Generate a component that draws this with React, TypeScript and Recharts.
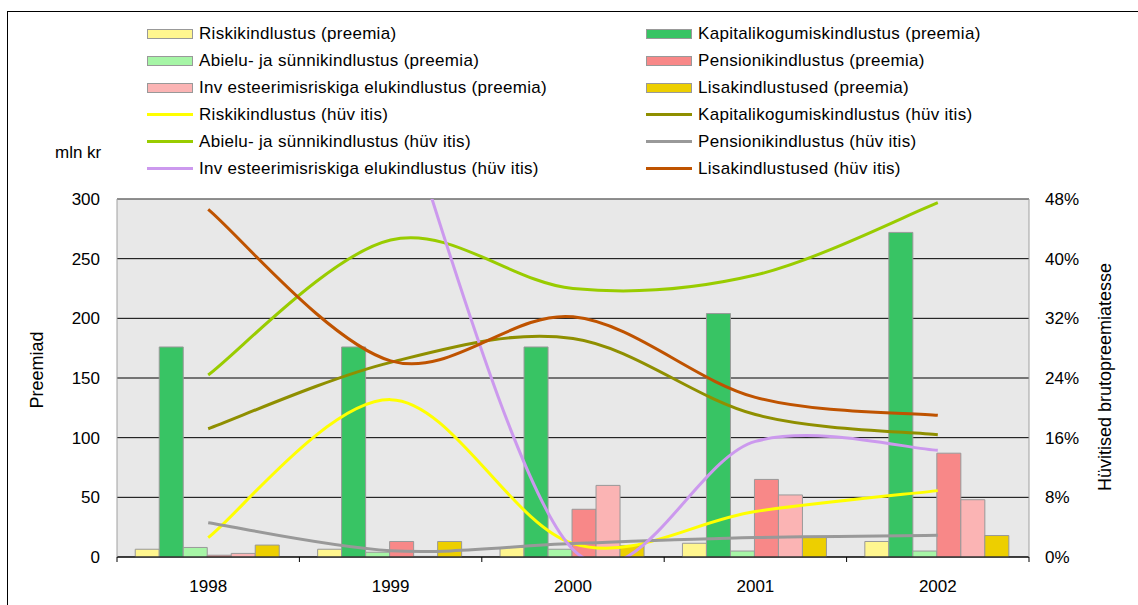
import { ComposedChart, Bar, Line, XAxis, YAxis, CartesianGrid, ReferenceLine } from 'recharts';

const years = ['1998', '1999', '2000', '2001', '2002'];

// preemiad, mln kr
const riskPrem = [6.5, 6.5, 8, 11.5, 13];
const kapPrem = [176, 176, 176, 204, 272];
const abiPrem = [8, 4, 6.5, 5, 5];
const penPrem = [1.5, 13, 40, 65, 87];
const invPrem = [3, 0.5, 60, 52, 48];
const lisPrem = [10, 13, 9.5, 16.5, 18];

// hüvitised, % brutopreemiatest
const riskHuv = [2.6, 21.1, 1.8, 6.1, 8.9];
const kapHuv = [17.2, 26.1, 29.3, 19.1, 16.4];
const abiHuv = [24.4, 42.5, 36.0, 37.8, 47.5];
const penHuv = [4.6, 0.85, 1.8, 2.6, 2.9];
const invHuv = [null, 65, 1, 15.5, 14.3];
const lisHuv = [46.6, 26.3, 32.2, 21.4, 19.0];

const leftTicks = [0, 50, 100, 150, 200, 250, 300];
const rightTicks = [0, 8, 16, 24, 32, 40, 48];

const barSeries = [
  { key: 'riskPrem', name: 'Riskikindlustus (preemia)', color: '#FFF68F' },
  { key: 'kapPrem', name: 'Kapitalikogumiskindlustus (preemia)', color: '#38C464' },
  { key: 'abiPrem', name: 'Abielu- ja sünnikindlustus (preemia)', color: '#A6F5A6' },
  { key: 'penPrem', name: 'Pensionikindlustus (preemia)', color: '#F88888' },
  { key: 'invPrem', name: 'Inv esteerimisriskiga elukindlustus (preemia)', color: '#FBB4B4' },
  { key: 'lisPrem', name: 'Lisakindlustused (preemia)', color: '#EDCF00' },
];

const lineSeries = [
  { key: 'riskHuv', name: 'Riskikindlustus (hüv itis)', color: '#FFFF00' },
  { key: 'kapHuv', name: 'Kapitalikogumiskindlustus (hüv itis)', color: '#8F8F00' },
  { key: 'abiHuv', name: 'Abielu- ja sünnikindlustus (hüv itis)', color: '#99CC00' },
  { key: 'penHuv', name: 'Pensionikindlustus (hüv itis)', color: '#999999' },
  { key: 'invHuv', name: 'Inv esteerimisriskiga elukindlustus (hüv itis)', color: '#CC99EE' },
  { key: 'lisHuv', name: 'Lisakindlustused (hüv itis)', color: '#BF5300' },
];

const data = years.map((year, i) => ({
  year,
  riskPrem: riskPrem[i],
  kapPrem: kapPrem[i],
  abiPrem: abiPrem[i],
  penPrem: penPrem[i],
  invPrem: invPrem[i],
  lisPrem: lisPrem[i],
  riskHuv: riskHuv[i],
  kapHuv: kapHuv[i],
  abiHuv: abiHuv[i],
  penHuv: penHuv[i],
  invHuv: invHuv[i],
  lisHuv: lisHuv[i],
}));

const W = 1138;
const H = 605;
const LEFT_W = 117;
const RIGHT_W = 109;
const PLOT_W = W - LEFT_W - RIGHT_W;
const BAND = PLOT_W / years.length;
const FONT = '"Liberation Sans", Arial, sans-serif';

// excel-like smoothed line (catmull-rom as bezier)
function excelCurve(context: any) {
  let pts: number[][] = [];
  return {
    areaStart() {},
    areaEnd() {},
    lineStart() {
      pts = [];
    },
    point(x: number, y: number) {
      pts.push([+x, +y]);
    },
    lineEnd() {
      if (!pts.length) return;
      context.moveTo(pts[0][0], pts[0][1]);
      for (let i = 0; i < pts.length - 1; i++) {
        const p0 = pts[i - 1] || pts[i];
        const p1 = pts[i];
        const p2 = pts[i + 1];
        const p3 = pts[i + 2] || p2;
        context.bezierCurveTo(
          p1[0] + (p2[0] - p0[0]) / 6,
          p1[1] + (p2[1] - p0[1]) / 6,
          p2[0] - (p3[0] - p1[0]) / 6,
          p2[1] - (p3[1] - p1[1]) / 6,
          p2[0],
          p2[1]
        );
      }
    },
  };
}

function YearTick(props: any) {
  const { x, y, payload, index } = props;
  return (
    <g>
      <line x1={x - BAND / 2} y1={y} x2={x - BAND / 2} y2={y + 5} stroke="#000" />
      {index === years.length - 1 && (
        <line x1={x + BAND / 2} y1={y} x2={x + BAND / 2} y2={y + 5} stroke="#000" />
      )}
      <text x={x} y={y + 35} textAnchor="middle" fontSize={17} fill="#000" fontFamily={FONT}>
        {payload.value}
      </text>
    </g>
  );
}

const legendItems = [
  ...barSeries.map((s) => ({ ...s, kind: 'bar' })),
  ...lineSeries.map((s) => ({ ...s, kind: 'line' })),
];

export default function App() {
  return (
    <div
      style={{
        position: 'fixed',
        left: 0,
        top: 0,
        width: W,
        height: H,
        overflow: 'hidden',
        background: '#fff',
        fontFamily: FONT,
      }}
    >
      <div
        style={{
          position: 'absolute',
          left: 7,
          top: 11,
          width: 1200,
          height: 700,
          border: '1px solid #000',
        }}
      />
      <div
        style={{
          position: 'absolute',
          left: 147,
          top: 20,
          display: 'grid',
          gridTemplateColumns: '499px 400px',
          gridAutoRows: '27px',
          fontSize: 17,
          letterSpacing: 0.3,
        }}
      >
        {legendItems.map((it) => (
          <div key={it.key} style={{ display: 'flex', alignItems: 'center', whiteSpace: 'nowrap' }}>
            {it.kind === 'bar' ? (
              <span
                style={{
                  width: 46,
                  height: 10,
                  boxSizing: 'border-box',
                  border: '1px solid #999',
                  background: it.color,
                  marginRight: 6,
                }}
              />
            ) : (
              <span style={{ width: 46, height: 3, background: it.color, marginRight: 6 }} />
            )}
            <span>{it.name}</span>
          </div>
        ))}
      </div>
      <div style={{ position: 'absolute', left: 55, top: 143, fontSize: 17 }}>mln kr</div>
      <div
        style={{
          position: 'absolute',
          left: 37,
          top: 370,
          fontSize: 18,
          whiteSpace: 'nowrap',
          transform: 'translate(-50%, -50%) rotate(-90deg)',
        }}
      >
        Preemiad
      </div>
      <div
        style={{
          position: 'absolute',
          left: 1105,
          top: 377,
          fontSize: 18,
          whiteSpace: 'nowrap',
          transform: 'translate(-50%, -50%) rotate(-90deg)',
        }}
      >
        Hüvitised brutopreemiatesse
      </div>
      <div style={{ position: 'absolute', left: 0, top: 0 }}>
        <ComposedChart
          width={W}
          height={H}
          data={data}
          margin={{ top: 199, right: 0, bottom: 18, left: 0 }}
          barCategoryGap="10%"
          barGap={0}
        >
          <CartesianGrid yAxisId="left" vertical={false} stroke="#000" fill="#E8E8E8" />
          <ReferenceLine yAxisId="left" y={300} stroke="#A0A0A0" />
          <XAxis
            dataKey="year"
            height={30}
            axisLine={{ stroke: '#000' }}
            tickLine={false}
            tickSize={0}
            tickMargin={0}
            tick={<YearTick />}
            interval={0}
          />
          <YAxis
            yAxisId="left"
            width={LEFT_W}
            domain={[0, 300]}
            ticks={leftTicks}
            axisLine={{ stroke: '#A0A0A0' }}
            tickLine={false}
            tickSize={0}
            tickMargin={17}
            tick={{ fontSize: 17, fill: '#000', fontFamily: FONT }}
          />
          <YAxis
            yAxisId="right"
            orientation="right"
            width={RIGHT_W}
            domain={[0, 48]}
            allowDataOverflow
            ticks={rightTicks}
            tickFormatter={(v: number) => `${v}%`}
            axisLine={{ stroke: '#A0A0A0' }}
            tickLine={false}
            tickSize={0}
            tickMargin={16}
            tick={{ fontSize: 17, fill: '#000', fontFamily: FONT }}
          />
          {barSeries.map((s) => (
            <Bar
              key={s.key}
              yAxisId="left"
              dataKey={s.key}
              name={s.name}
              fill={s.color}
              stroke="#999"
              strokeWidth={1}
              isAnimationActive={false}
            />
          ))}
          {lineSeries.map((s) => (
            <Line
              key={s.key}
              yAxisId="right"
              dataKey={s.key}
              name={s.name}
              type={excelCurve as any}
              stroke={s.color}
              strokeWidth={3}
              dot={false}
              activeDot={false}
              connectNulls={false}
              isAnimationActive={false}
            />
          ))}
        </ComposedChart>
      </div>
    </div>
  );
}
